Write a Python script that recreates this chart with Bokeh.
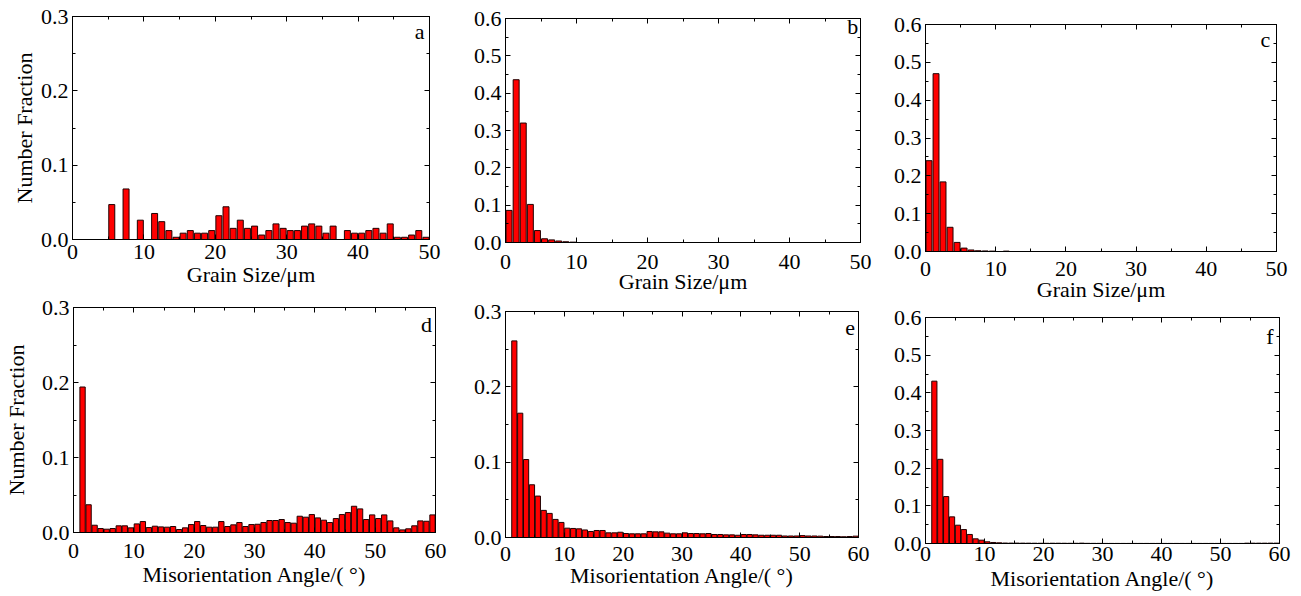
from bokeh.plotting import figure
from bokeh.layouts import column, row
from bokeh.models import LinearAxis, FixedTicker, PrintfTickFormatter, Label, Range1d
from bokeh.embed import file_html
from bokeh.resources import INLINE

FONT = "Liberation Serif"

# ---------------- data ----------------
grain_a_bins = [5.5, 7.5, 9.5, 11.5, 12.5, 13.5, 14.5, 15.5, 16.5, 17.5, 18.5, 19.5,
                20.5, 21.5, 22.5, 23.5, 24.5, 25.5, 26.5, 27.5, 28.5, 29.5, 30.5, 31.5,
                32.5, 33.5, 34.5, 35.5, 36.5, 38.5, 39.5, 40.5, 41.5, 42.5, 43.5, 44.5,
                45.5, 46.5, 47.5, 48.5, 49.5]
grain_a_vals = [0.047, 0.068, 0.026, 0.035, 0.024, 0.012, 0.003, 0.0085, 0.012, 0.0085, 0.0085, 0.012,
                0.032, 0.044, 0.015, 0.026, 0.015, 0.018, 0.006, 0.012, 0.021, 0.015, 0.012, 0.012,
                0.018, 0.021, 0.018, 0.0085, 0.018, 0.012, 0.0085, 0.0085, 0.012, 0.015, 0.0085, 0.021,
                0.003, 0.003, 0.006, 0.012, 0.003]

grain_b_bins = [0.5, 1.5, 2.5, 3.5, 4.5, 5.5, 6.5, 7.5, 8.5, 9.5]
grain_b_vals = [0.086, 0.436, 0.320, 0.102, 0.032, 0.010, 0.007, 0.004, 0.002, 0.001]

grain_c_bins = [0.5, 1.5, 2.5, 3.5, 4.5, 5.5, 6.5, 7.5, 8.5, 9.5, 11.5]
grain_c_vals = [0.240, 0.470, 0.184, 0.064, 0.024, 0.009, 0.004, 0.002, 0.0015, 0.001, 0.001]

angle_bins = [k + 0.5 for k in range(1, 60)]

angle_d_vals = [0.194, 0.037, 0.0097, 0.0053, 0.0044, 0.0053, 0.0089, 0.0089, 0.0062, 0.0115,
                0.0146, 0.0066, 0.0084, 0.0075, 0.0071, 0.0080, 0.0040, 0.0062, 0.0106, 0.0146,
                0.0093, 0.0071, 0.0071, 0.0146, 0.0080, 0.0102, 0.0133, 0.0080, 0.0106, 0.0110,
                0.0133, 0.0160, 0.0160, 0.0173, 0.0133, 0.0124, 0.0217, 0.0204, 0.0239, 0.0195,
                0.0164, 0.0133, 0.0186, 0.0239, 0.0266, 0.0350, 0.0315, 0.0173, 0.0235, 0.0186,
                0.0235, 0.0155, 0.0062, 0.0035, 0.0049, 0.0089, 0.0155, 0.0150, 0.0235]

angle_e_vals = [0.261, 0.165, 0.1035, 0.070, 0.055, 0.036, 0.032, 0.024, 0.020, 0.0124,
                0.012, 0.0115, 0.010, 0.008, 0.0093, 0.0093, 0.0062, 0.0062, 0.007, 0.0053,
                0.0049, 0.0049, 0.0049, 0.008, 0.0075, 0.0075, 0.0058, 0.0049, 0.0049, 0.0062,
                0.0053, 0.0053, 0.0049, 0.0053, 0.004, 0.004, 0.0035, 0.0035, 0.003, 0.004,
                0.004, 0.0035, 0.003, 0.003, 0.003, 0.003, 0.002, 0.002, 0.002, 0.0025,
                0.002, 0.002, 0.0018, 0.0013, 0.0013, 0.0013, 0.001, 0.0013, 0.0018]

angle_f_vals = [0.431, 0.2235, 0.1246, 0.0707, 0.0486, 0.037, 0.024, 0.0124, 0.0088, 0.0044,
                0.0027, 0.0018, 0.0012, 0.001, 0.001, 0.0009, 0.0008, 0.0007, 0.0006, 0.0005,
                0.0007, 0.0007, 0.0006, 0.0005, 0.0005, 0.0009, 0.0004, 0.0003, 0.0003, 0.0002,
                0.0002, 0.0002, 0.0002, 0.0002, 0.0002, 0.0002, 0.0002, 0.0002, 0.0002, 0.0002,
                0.0002, 0.0002, 0.0002, 0.0002, 0.0002, 0.0002, 0.0002, 0.0002, 0.0002, 0.0002,
                0.0002, 0.0002, 0.0002, 0.0008, 0.0008, 0.0008, 0.0008, 0.0009, 0.0009]

grain_ticks = [0, 10, 20, 30, 40, 50]
grain_minor = [5, 15, 25, 35, 45]
angle_ticks = [0, 10, 20, 30, 40, 50, 60]
angle_minor = [5, 15, 25, 35, 45, 55]
y03_ticks = [0.0, 0.1, 0.2, 0.3]
y03_minor = [0.05, 0.15, 0.25]
y06_ticks = [0.0, 0.1, 0.2, 0.3, 0.4, 0.5, 0.6]
y06_minor = [0.05, 0.15, 0.25, 0.35, 0.45, 0.55]

x_label_grain = "Grain Size/μm"
x_label_angle = "Misorientation Angle/( °)"
y_label = "Number Fraction"
letters = ["a", "b", "c", "d", "e", "f"]

FS = "22px"
LH = 1.0


def style_axis(ax, show_labels=True):
    ax.axis_line_color = "black"
    ax.axis_line_width = 1
    ax.major_tick_line_color = "black"
    ax.minor_tick_line_color = "black"
    ax.major_tick_in = 5
    ax.major_tick_out = 0
    ax.minor_tick_in = 3
    ax.minor_tick_out = 0
    ax.major_label_text_font = FONT
    ax.major_label_text_line_height = LH
    ax.axis_label_text_font = FONT
    ax.axis_label_text_font_style = "normal"
    ax.axis_label_text_color = "black"
    ax.axis_label_text_font_size = FS
    ax.axis_label_text_line_height = LH
    if show_labels:
        ax.major_label_text_font_size = FS
        ax.major_label_text_color = "black"
    else:
        ax.major_label_text_font_size = "1px"
        ax.major_label_text_color = None
        ax.major_label_standoff = 0


def panel(bins, vals, xmax, ymax, xt_major, xt_minor, yt_major, yt_minor,
          width, height, bl, br, bt, bb, xlabel, ylabel,
          letter, lx, ly, bar_w, tick_so, xlab_so, ylab_so):
    p = figure(width=width, height=height, x_range=Range1d(0, xmax), y_range=Range1d(0, ymax),
               output_backend="svg", toolbar_location=None,
               min_border_left=bl, min_border_right=br, min_border_top=bt, min_border_bottom=bb,
               x_axis_location=None, y_axis_location=None)
    p.frame_align = False
    p.xgrid.grid_line_color = None
    p.ygrid.grid_line_color = None
    p.outline_line_color = "black"
    p.background_fill_color = "white"
    p.border_fill_color = "white"

    p.vbar(x=bins, top=vals, bottom=0, width=bar_w,
           fill_color="#ff0000", line_color="#200000", line_width=1)

    xb = LinearAxis(ticker=FixedTicker(ticks=xt_major, minor_ticks=xt_minor), axis_label=xlabel)
    style_axis(xb)
    xb.major_label_standoff = tick_so
    xb.axis_label_standoff = xlab_so
    p.add_layout(xb, "below")

    xt = LinearAxis(ticker=FixedTicker(ticks=xt_major, minor_ticks=xt_minor))
    style_axis(xt, show_labels=False)
    p.add_layout(xt, "above")

    yl = LinearAxis(ticker=FixedTicker(ticks=yt_major, minor_ticks=yt_minor),
                    formatter=PrintfTickFormatter(format="%.1f"), axis_label=ylabel)
    style_axis(yl)
    yl.major_label_standoff = 4
    yl.axis_label_standoff = ylab_so
    p.add_layout(yl, "left")

    yr = LinearAxis(ticker=FixedTicker(ticks=yt_major, minor_ticks=yt_minor))
    style_axis(yr, show_labels=False)
    p.add_layout(yr, "right")

    p.add_layout(Label(x=lx, y=ly, text=letter, text_align="right", text_baseline="top",
                       text_font=FONT, text_font_size=FS, text_color="black"))
    return p


# column 1 (a over d), column 2 (b over e), column 3 (c over f)
pa = panel(grain_a_bins, grain_a_vals, 50, 0.3, grain_ticks, grain_minor, y03_ticks, y03_minor,
           470, 293, 72, 41, 16, 54, x_label_grain, y_label, letters[0], 49.3, 0.297, 0.84, 5, 0, 1)
pd = panel(angle_bins, angle_d_vals, 60, 0.3, angle_ticks, angle_minor, y03_ticks, y03_minor,
           470, 303, 69, 35, 14, 64, x_label_angle, y_label, letters[3], 59.4, 0.2946, 0.88, 11, 1, 10)
pb = panel(grain_b_bins, grain_b_vals, 50, 0.6, grain_ticks, grain_minor, y06_ticks, y06_minor,
           420, 298, 33, 30, 18, 56, x_label_grain, None, letters[1], 49.7, 0.613, 0.84, 12, -3, 4)
pe = panel(angle_bins, angle_e_vals, 60, 0.3, angle_ticks, angle_minor, y03_ticks, y03_minor,
           420, 298, 34, 32, 13, 59, x_label_angle, None, letters[4], 59.4, 0.288, 0.88, 9, -1, 4)
pc = panel(grain_c_bins, grain_c_vals, 50, 0.6, grain_ticks, grain_minor, y06_ticks, y06_minor,
           410, 305, 29, 24, 24, 54, x_label_grain, None, letters[2], 49.1, 0.594, 0.84, 10, -2, 4)
pf = panel(angle_bins, angle_f_vals, 60, 0.6, angle_ticks, angle_minor, y06_ticks, y06_minor,
           410, 291, 32, 21, 12, 53, x_label_angle, None, letters[5], 59.0, 0.584, 0.88, 3, 2, 4)

layout = row(column(pa, pd), column(pb, pe), column(pc, pf))
open("out.html", "w").write(file_html(layout, INLINE))
